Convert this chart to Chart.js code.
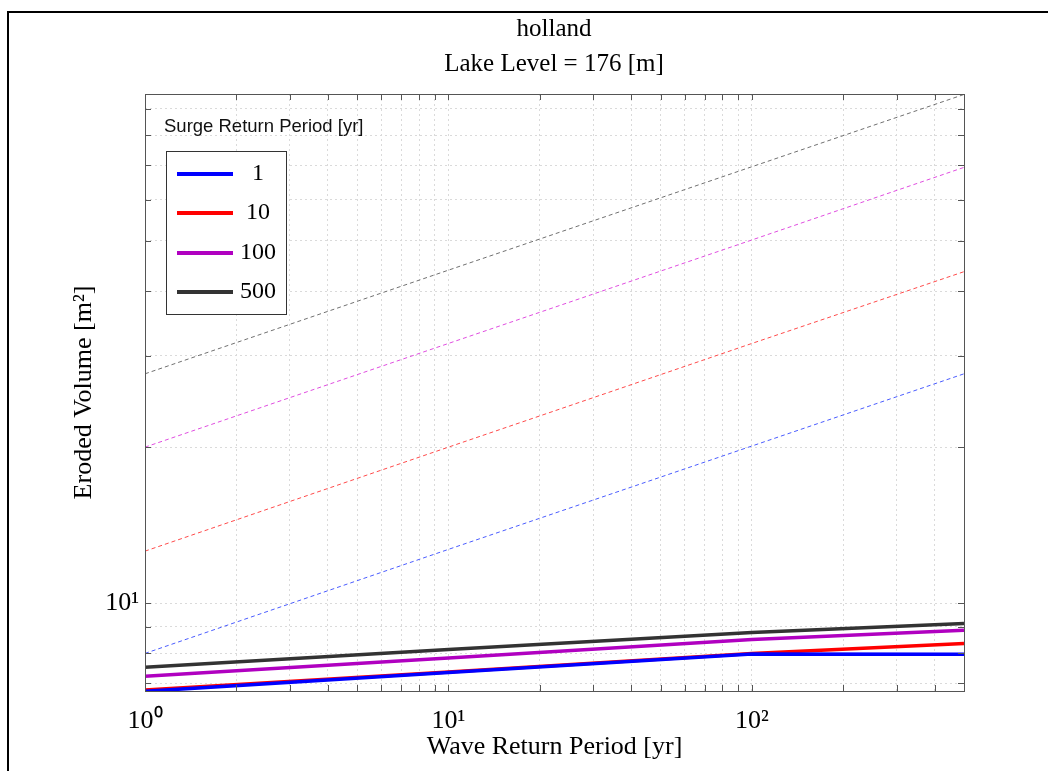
<!DOCTYPE html>
<html>
<head>
<meta charset="utf-8">
<script src="https://cdn.jsdelivr.net/npm/chart.js@4"></script>
<style>
  body { margin: 0; background: #fff; }
  #wrap { position: relative; width: 1048px; height: 771px; overflow: hidden; }
  #frame { position: absolute; left: 7px; top: 11px; width: 1100px; height: 800px;
           border-left: 2px solid #000; border-top: 2px solid #000; }
  #legendTitle { position: absolute; left: 164px; top: 115px; font-family: 'Liberation Sans', Arial, sans-serif;
                 font-size: 18.5px; color: #111; white-space: nowrap; }
  #legendBox { position: absolute; left: 166px; top: 151px; width: 119px; height: 162px;
               border: 1px solid #333; background: #fff; }
  .row { position: absolute; left: 0; width: 119px; height: 30px; }
  .swatch { position: absolute; left: 10px; top: 13px; width: 56px; height: 4px; }
  .lab { position: absolute; left: 66px; width: 50px; top: 0px; text-align: center;
         font-family: 'Liberation Serif', 'Times New Roman', serif; font-size: 24px; color: #000; }
</style>
</head>
<body>
<div id="wrap">
  <div id="frame"></div>
  <canvas id="erosionChart" width="1048" height="771"></canvas>
  <div id="legendTitle">Surge Return Period [yr]</div>
  <div id="legendBox"></div>
</div>
<script>
// x axis - wave return period [yr]
const waveReturn = [1, 10, 100, 500];

// surge return periods (legend)
const surgeLabels = ['1', '10', '100', '500'];

// solid lines - eroded volume [m2]
const surge1Solid = [6.76, 7.35, 7.98, 7.97];
const surge10Solid = [6.80, 7.37, 8.00, 8.36];
const surge100Solid = [7.23, 7.84, 8.51, 8.87];
const surge500Solid = [7.52, 8.14, 8.78, 9.14];

// thin dashed lines
const surge1Dashed = [8.0, 12.7, 20.1, 27.7];
const surge10Dashed = [12.6, 20.0, 31.7, 43.6];
const surge100Dashed = [20.0, 31.7, 50.2, 69.3];
const surge500Dashed = [27.7, 43.9, 69.5, 95.8];

// tick values
const xTickValues = [1,2,3,4,5,6,7,8,9,10,20,30,40,50,60,70,80,90,100,200,300,400];
const xTickLabels = {1: '10\u2070', 10: '10\u00b9', 100: '10\u00b2'};
const yTickValues = [7,8,9,10,20,30,40,50,60,70,80,90];
const yTickLabels = {10: '10\u00b9'};

const solidColors = ['#0000ff', '#ff0000', '#b000c0', '#333333'];
const dashedColors = ['#4a5cff', '#ff4a4a', '#e04de0', '#707070'];

function toPoints(ys) {
    return waveReturn.map((x, i) => ({x: x, y: ys[i]}));
}

const solidSeries = [surge1Solid, surge10Solid, surge100Solid, surge500Solid];
const dashedSeries = [surge1Dashed, surge10Dashed, surge100Dashed, surge500Dashed];

const datasets = [];
for (let i = 0; i < dashedSeries.length; i++) {
    datasets.push({
        label: surgeLabels[i] + ' dashed',
        data: toPoints(dashedSeries[i]),
        borderColor: dashedColors[i],
        borderWidth: 1,
        borderDash: [4, 3],
        pointRadius: 0,
        fill: false
    });
}
for (let i = 0; i < solidSeries.length; i++) {
    datasets.push({
        label: surgeLabels[i],
        data: toPoints(solidSeries[i]),
        borderColor: solidColors[i],
        borderWidth: 3.5,
        pointRadius: 0,
        fill: false
    });
}

// box round the plot and small inward ticks on all four sides
const frameTicks = {
    id: 'frameTicks',
    afterDraw(chart) {
        const ctx = chart.ctx;
        const a = chart.chartArea;
        const xs = chart.scales.x, ys = chart.scales.y;
        ctx.save();
        ctx.strokeStyle = '#555';
        ctx.lineWidth = 1;
        ctx.strokeRect(a.left + 0.5, a.top + 0.5, a.right - a.left, a.bottom - a.top);
        ctx.beginPath();
        xs.ticks.forEach(t => {
            const px = Math.round(xs.getPixelForValue(t.value)) + 0.5;
            ctx.moveTo(px, a.bottom); ctx.lineTo(px, a.bottom - 6);
            ctx.moveTo(px, a.top); ctx.lineTo(px, a.top + 6);
        });
        ys.ticks.forEach(t => {
            const py = Math.round(ys.getPixelForValue(t.value)) + 0.5;
            ctx.moveTo(a.left, py); ctx.lineTo(a.left + 6, py);
            ctx.moveTo(a.right, py); ctx.lineTo(a.right - 6, py);
        });
        ctx.stroke();
        ctx.restore();
    }
};

const serif = "'Liberation Serif', 'Times New Roman', serif";

const chart = new Chart(document.getElementById('erosionChart'), {
    type: 'line',
    data: { datasets: datasets },
    options: {
        responsive: false,
        animation: false,
        // left padding keeps the title centred over the plot
        layout: { padding: { left: 60, right: 0, top: 12, bottom: 0 } },
        plugins: {
            legend: { display: false },
            tooltip: { enabled: false },
            title: {
                display: true,
                text: ['holland', 'Lake Level = 176 [m]'],
                color: '#000',
                font: { family: serif, size: 25, weight: 'normal', lineHeight: 1.4 },
                padding: { top: 0, bottom: 12 }
            }
        },
        scales: {
            x: {
                type: 'logarithmic',
                min: 1,
                max: 500,
                afterFit: s => { s.height = 80; },
                afterBuildTicks: s => { s.ticks = xTickValues.map(v => ({value: v})); },
                ticks: {
                    autoSkip: false,
                    maxRotation: 0,
                    padding: 15,
                    color: '#000',
                    font: { family: serif, size: 26 },
                    callback: v => xTickLabels[v] || ''
                },
                grid: { color: '#dadada', drawTicks: false },
                border: { display: false, dash: [2, 3] },
                title: {
                    display: true,
                    text: 'Wave Return Period [yr]',
                    color: '#000',
                    font: { family: serif, size: 26 },
                    padding: { top: 0, bottom: 8 }
                }
            },
            y: {
                type: 'logarithmic',
                min: 6.77,
                max: 96,
                afterFit: s => { s.width = 85; },
                afterBuildTicks: s => { s.ticks = yTickValues.map(v => ({value: v})); },
                ticks: {
                    autoSkip: false,
                    padding: 6,
                    color: '#000',
                    font: { family: serif, size: 26 },
                    callback: v => yTickLabels[v] || ''
                },
                grid: { color: '#dadada', drawTicks: false },
                border: { display: false, dash: [2, 3] },
                title: {
                    display: true,
                    text: 'Eroded Volume [m\u00b2]',
                    color: '#000',
                    font: { family: serif, size: 26 },
                    padding: { top: 9, bottom: 0 }
                }
            },
            // empty space on the right of the plot
            yRight: {
                position: 'right',
                display: true,
                afterFit: s => { s.width = 84; },
                ticks: { display: false },
                grid: { display: false, drawOnChartArea: false },
                border: { display: false }
            }
        }
    },
    plugins: [frameTicks]
});

// legend inside the plot, only the solid lines
const box = document.getElementById('legendBox');
chart.data.datasets.filter(d => !d.borderDash).forEach((d, i) => {
    const row = document.createElement('div');
    row.className = 'row';
    row.style.top = (7 + i * 39.3) + 'px';
    const sw = document.createElement('div');
    sw.className = 'swatch';
    sw.style.background = d.borderColor;
    const lab = document.createElement('div');
    lab.className = 'lab';
    lab.textContent = d.label;
    row.appendChild(sw);
    row.appendChild(lab);
    box.appendChild(row);
});
</script>
</body>
</html>
